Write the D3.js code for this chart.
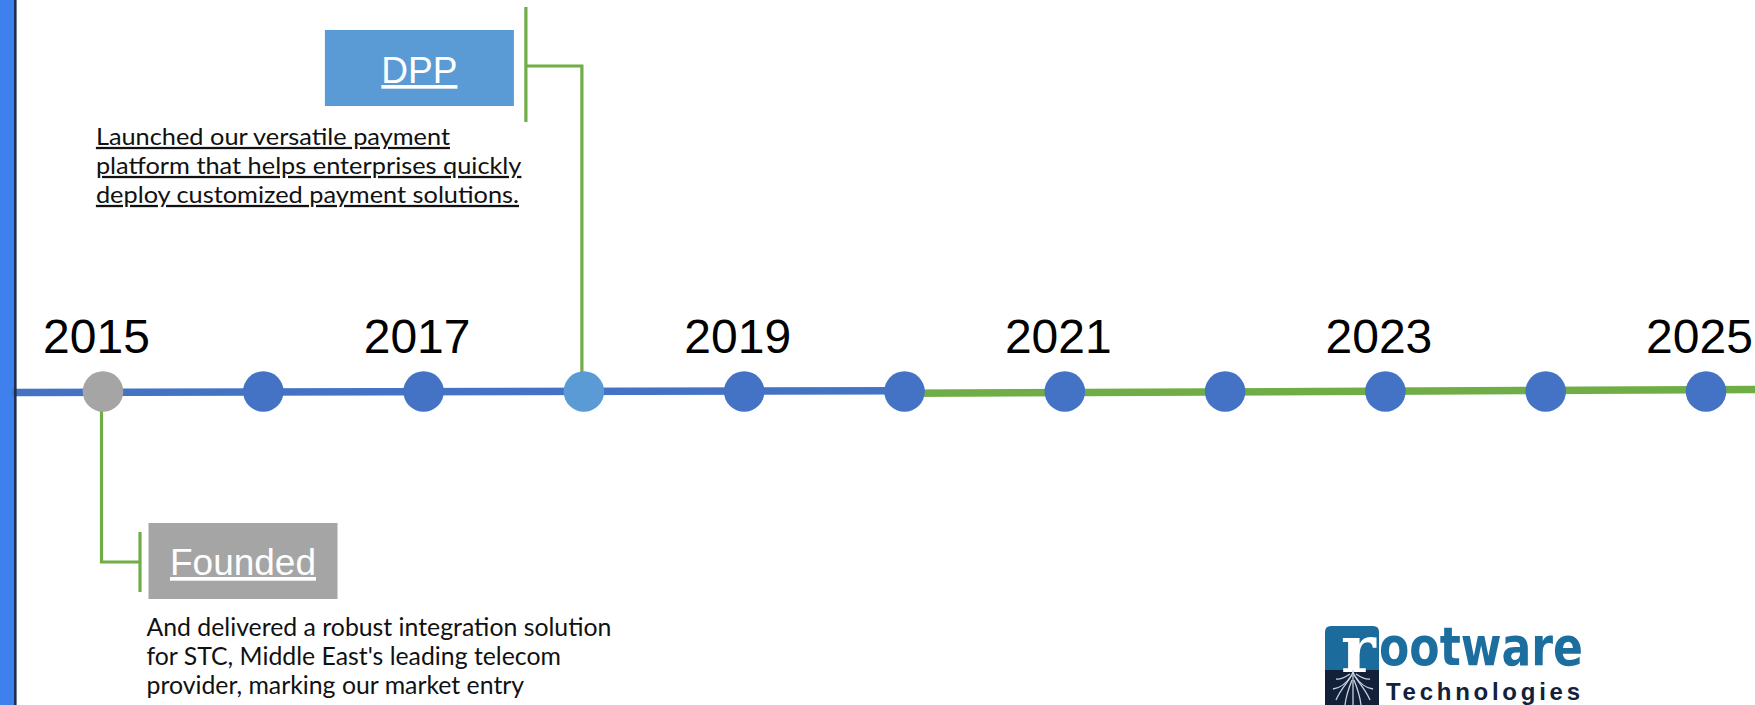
<!DOCTYPE html>
<html><head><meta charset="utf-8">
<script src="https://cdn.jsdelivr.net/npm/d3@7"></script>
<style>html,body{margin:0;padding:0;background:#fff;overflow:hidden}</style>
</head><body>
<svg id="chart" width="1755" height="705"></svg>
<script>
// ---------- data ----------
const years = [2015, 2016, 2017, 2018, 2019, 2020, 2021, 2022, 2023, 2024, 2025];
const tickLabels = ["2015", "2017", "2019", "2021", "2023", "2025"];
const eventYears = [2015, 2018];
const eventTitles = ["Founded", "DPP"];
const eventPlacement = ["below", "above"];
const eventTexts = [
  ["And delivered a robust integration solution", "for STC, Middle East's leading telecom", "provider, marking our market entry"],
  ["Launched our versatile payment", "platform that helps enterprises quickly", "deploy customized payment solutions."]
];
const phaseNames = ["foundation", "growth"];
const phaseBreaks = [2020];

// ---------- setup ----------
const W = 1755, H = 705;
const svg = d3.select("#chart");
const x = d3.scaleLinear().domain([2015, 2025]).range([103, 1706]);
const axisY = 391.5;
const R = 20.3;
const colors = {
  foundation: "#4472c4", growth: "#70ad47", dot: "#4472c4",
  Founded: "#a5a5a5", DPP: "#5b9bd5", connector: "#70ad47",
  border: "#3d80ee", borderEdge: "#1c2d4f"
};
const underlineDesc = { Founded: false, DPP: true };

// left border bar
svg.append("rect").attr("x", 0).attr("y", 0).attr("width", 14).attr("height", H).attr("fill", colors.border);

// timeline phases
const breakX = x(phaseBreaks[0]);
svg.append("line")
  .attr("x1", 12).attr("y1", axisY + 1).attr("x2", breakX).attr("y2", axisY - 0.7)
  .attr("stroke", colors[phaseNames[0]]).attr("stroke-width", 7.5);
svg.append("line")
  .attr("x1", breakX).attr("y1", axisY + 1.8).attr("x2", W).attr("y2", axisY - 2)
  .attr("stroke", colors[phaseNames[1]]).attr("stroke-width", 7.5);

svg.append("rect").attr("x", 14).attr("y", 0).attr("width", 2.6).attr("height", H).attr("fill", colors.borderEdge);

// year labels via axis
const axis = d3.axisTop(x)
  .tickValues(tickLabels.map(Number))
  .tickFormat((d, i) => tickLabels[i])
  .tickSize(0).tickPadding(0);
const gAxis = svg.append("g").attr("transform", `translate(-7,353)`).call(axis);
gAxis.select(".domain").remove();
gAxis.selectAll("text")
  .attr("font-family", "'Liberation Sans', Arial, sans-serif")
  .attr("font-size", 48).attr("fill", "#000");

// events
const events = eventYears.map((y, i) => ({ year: y, title: eventTitles[i], side: eventPlacement[i], text: eventTexts[i] }));
const gEv = svg.append("g");
events.forEach(ev => {
  const cx = x(ev.year);
  const g = gEv.append("g");
  let boxX, boxY, boxW = 189, boxH = 76, descX, descY0, titleBase, descSize, target, lineGap;
  if (ev.side === "above") {
    const vx = cx - 2;
    const bx = vx - 56;
    g.append("path").attr("d", `M${vx},${axisY - R + 1}V66H${bx}`)
      .attr("fill", "none").attr("stroke", colors.connector).attr("stroke-width", 3.2);
    g.append("path").attr("d", `M${bx},7V122`)
      .attr("fill", "none").attr("stroke", colors.connector).attr("stroke-width", 3.2);
    boxX = bx - 12 - boxW; boxY = 30; titleBase = 83;
    descX = boxX - 229; descY0 = 145; descSize = 22.7; target = 425.5; lineGap = 29;
  } else {
    const vx = cx - 1.5;
    const bx = vx + 38.5;
    g.append("path").attr("d", `M${vx},${axisY + R - 1}V562H${bx}`)
      .attr("fill", "none").attr("stroke", colors.connector).attr("stroke-width", 3.2);
    g.append("path").attr("d", `M${bx},532V592`)
      .attr("fill", "none").attr("stroke", colors.connector).attr("stroke-width", 3.2);
    boxX = bx + 8.5; boxY = 523; titleBase = 575;
    descX = boxX - 2; descY0 = 636; descSize = 24.7; target = 465; lineGap = 29;
  }
  g.append("rect").attr("x", boxX).attr("y", boxY).attr("width", boxW).attr("height", boxH)
    .attr("fill", colors[ev.title]);
  g.append("text").attr("x", boxX + boxW / 2).attr("y", titleBase)
    .attr("text-anchor", "middle")
    .attr("font-family", "'Liberation Sans', Arial, sans-serif")
    .attr("font-size", 37).attr("fill", "#fff")
    .style("text-decoration", "underline")
    .text(ev.title);
  const t = g.append("text")
    .attr("font-family", "Lato, sans-serif").attr("font-size", descSize).attr("fill", "#111")
    .style("text-decoration", underlineDesc[ev.title] ? "underline" : "none");
  const spans = t.selectAll("tspan").data(ev.text).join("tspan")
    .attr("x", descX).attr("y", (d, i) => descY0 + i * lineGap).text(d => d);
  let mx = 0;
  spans.each(function () { mx = Math.max(mx, this.getComputedTextLength()); });
  const sx = target / mx;
  t.attr("transform", `translate(${descX},0) scale(${sx},1) translate(${-descX},0)`);
});

// dots
svg.append("g").selectAll("circle").data(years).join("circle")
  .attr("cx", d => x(d)).attr("cy", axisY)
  .attr("r", R)
  .attr("fill", d => {
    const i = eventYears.indexOf(d);
    return i >= 0 ? colors[eventTitles[i]] : colors.dot;
  });

// ---------- logo ----------
const logo = svg.append("g");
logo.append("path")
  .attr("d", "M1325,705V632Q1325,626 1331,626H1373Q1379,626 1379,632V705Z")
  .attr("fill", "#1b6b9c");
logo.append("rect").attr("x", 1325).attr("y", 670).attr("width", 54).attr("height", 35).attr("fill", "#13203a");
logo.append("text").attr("x", 1341).attr("y", 672)
  .attr("font-family", "'DejaVu Serif', serif").attr("font-weight", "bold")
  .attr("font-size", 66).attr("fill", "#fff").text("r");
const roots = [
  "M1353,670L1353,705",
  "M1353,672C1350,681 1342,686 1336,700",
  "M1353,672C1356,681 1364,686 1370,700",
  "M1351,676C1346,684 1340,688 1333,689",
  "M1355,676C1360,684 1366,688 1373,689",
  "M1352,680C1348,690 1346,696 1345,705",
  "M1354,680C1358,690 1360,696 1361,705",
  "M1350,674C1344,678 1340,680 1336,679",
  "M1356,674C1362,678 1366,680 1370,679"
];
logo.append("g").selectAll("path").data(roots).join("path")
  .attr("d", d => d).attr("fill", "none").attr("stroke", "#c9d1dc").attr("stroke-width", 1.3);
logo.append("text").attr("x", 1379).attr("y", 665)
  .attr("font-family", "'DejaVu Sans', sans-serif").attr("font-weight", "bold")
  .attr("font-size", 54).attr("fill", "#1c6e9f")
  .attr("textLength", 204).attr("lengthAdjust", "spacingAndGlyphs")
  .text("ootware");
logo.append("text").attr("x", 1386).attr("y", 699.5)
  .attr("font-family", "'Liberation Sans', Arial, sans-serif").attr("font-weight", "bold")
  .attr("font-size", 24).attr("fill", "#13213a")
  .attr("textLength", 194).attr("lengthAdjust", "spacing")
  .text("Technologies");
</script>
</body></html>
